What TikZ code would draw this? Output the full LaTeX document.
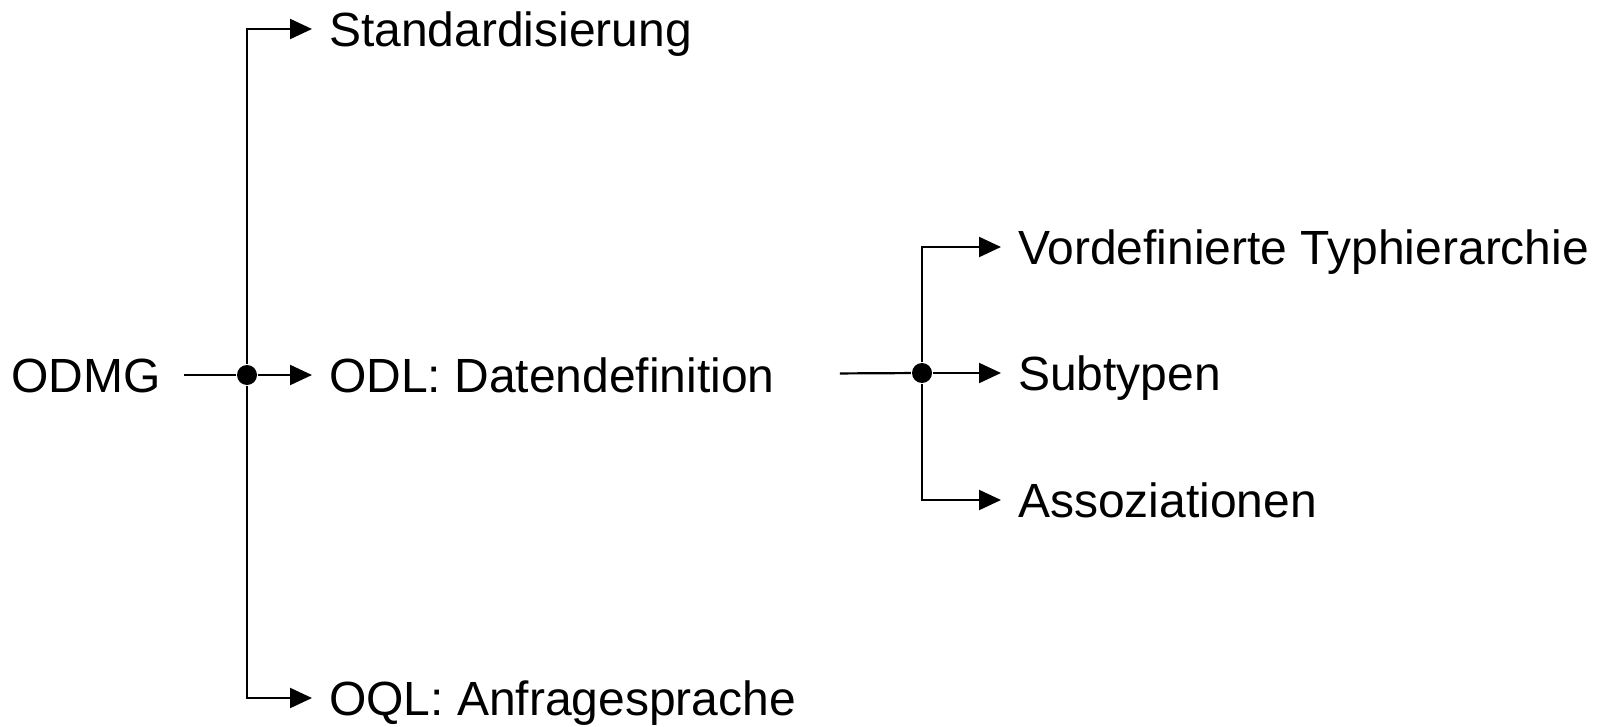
\documentclass[tikz,border=0pt]{standalone}
\usepackage{fontspec}
\setmainfont{Liberation Sans}
\usetikzlibrary{arrows.meta}
\begin{document}
\begin{tikzpicture}[x=0.5pt, y=-0.5pt, line width=1.1pt,
   font=\fontsize{24}{28}\selectfont,
   lbl/.style={anchor=west, inner xsep=8pt, inner ysep=0pt, text height=17.6pt, text depth=0pt},
   dot/.style={circle, fill, inner sep=0pt, minimum size=10pt},
   >={Triangle[length=11pt, width=10pt]}]
   \useasboundingbox (0,0) rectangle (1605,727);
   \node (J1) [dot] at (247,375) {};
   \node (O) [lbl, anchor=east, inner xsep=11pt] at (184,375) {ODMG};
   \node (Std) [lbl] at (312,29)  {Standardisierung};
   \node (ODL) [lbl] at (312,375) {ODL: Datendefinition};
   \node (OQL) [lbl] at (312,698) {OQL: Anfragesprache};
   \node (J2) [dot] at (922,373) {};
   \node (Typ) [lbl] at (1001,247) {Vordefinierte Typhierarchie};
   \node (Sub) [lbl] at (1001,373) {Subtypen};
   \node (Ass) [lbl] at (1001,500) {Assoziationen};
   \draw (O) -- (J1);
   \path[->]
     (J1) edge (ODL)
     (J2) edge (Sub);
   \draw[->] (J1) |- (Std);
   \draw[->] (J1) |- (OQL);
   \draw[shorten <=24pt] (ODL) -- (J2);
   \draw[->] (J2) |- (Typ);
   \draw[->] (J2) |- (Ass);
\end{tikzpicture}
\end{document}
